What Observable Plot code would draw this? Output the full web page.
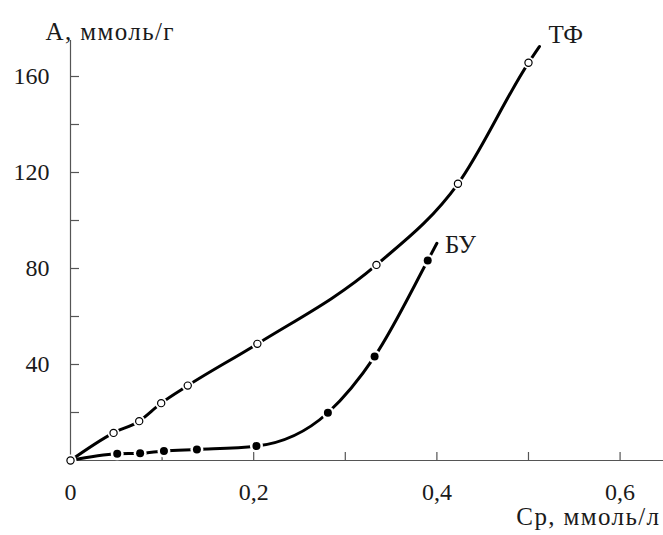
<!DOCTYPE html>
<html>
<head>
<meta charset="utf-8">
<script src="https://cdn.jsdelivr.net/npm/d3@7"></script>
<script src="https://cdn.jsdelivr.net/npm/@observablehq/plot@0.6"></script>
<style>
  html, body { margin: 0; padding: 0; background: #fff; }
</style>
</head>
<body>
<div id="chart"></div>
<script>
// ТФ series (open circles)
const tfX = [0, 0.047, 0.075, 0.099, 0.128, 0.204, 0.334, 0.423, 0.500];
const tfY = [0, 11.5, 16.4, 23.9, 31.2, 48.6, 81.5, 115.3, 165.7];
const tfEnd = {x: 0.512, y: 172.5};
// БУ series (filled circles)
const buX = [0, 0.051, 0.076, 0.102, 0.138, 0.203, 0.281, 0.332, 0.390];
const buY = [0, 2.8, 3.0, 4.0, 4.6, 6.0, 19.9, 43.3, 83.3];
const buEnd = {x: 0.400, y: 90.5};

const seriesNames = ["ТФ", "БУ"];
const xTicks = [0.1, 0.2, 0.3, 0.4, 0.5, 0.6];
const xLabels = [0, 0.2, 0.4, 0.6];
const yTicks = [20, 40, 60, 80, 100, 120, 140, 160];
const yLabels = [40, 80, 120, 160];
const yTitle = "А, ммоль/г";
const xTitle = "Ср, ммоль/л";

const tf = tfX.map((x, i) => ({x, y: tfY[i]}));
const bu = buX.map((x, i) => ({x, y: buY[i]}));
const tfLine = [...tf, tfEnd];
const buLine = [...bu, buEnd];
const buMarks = bu.filter(d => d.x > 0);

const font = "'Liberation Serif', 'Times New Roman', serif";
const fmt = d => String(d).replace(".", ",");

const chart = Plot.plot({
  width: 663,
  height: 535,
  marginLeft: 70,
  marginRight: 0,
  marginTop: 40,
  marginBottom: 75,
  style: {fontFamily: font, background: "#fff", overflow: "visible"},
  x: {domain: [0, 0.6474], axis: null},
  y: {domain: [0, 175], axis: null},
  marks: [
    Plot.ruleX([0], {stroke: "#555", strokeWidth: 1.2}),
    Plot.ruleY([0], {stroke: "#555", strokeWidth: 1.2}),
    Plot.axisX({ticks: xTicks, tickSize: -8, tickFormat: () => "", stroke: "#555", strokeWidth: 1.2, label: null}),
    Plot.axisY({ticks: yTicks, tickSize: -9, tickFormat: () => "", stroke: "#555", strokeWidth: 1.2, label: null}),
    Plot.axisX({ticks: xLabels, tickSize: 0, tickPadding: 22, tickFormat: fmt, fontSize: 24, fill: "#1a1a1a", label: null}),
    Plot.axisY({ticks: yLabels, tickSize: 0, tickPadding: 21, tickFormat: fmt, fontSize: 24, fill: "#1a1a1a", label: null}),
    Plot.line(tfLine, {x: "x", y: "y", curve: "monotone-x", stroke: "#000", strokeWidth: 3}),
    Plot.line(buLine, {x: "x", y: "y", curve: "monotone-x", stroke: "#000", strokeWidth: 3}),
    Plot.dot(tf, {x: "x", y: "y", r: 6, fill: "#fff", stroke: "none"}),
    Plot.dot(buMarks, {x: "x", y: "y", r: 6.5, fill: "#fff", stroke: "none"}),
    Plot.dot(buMarks, {x: "x", y: "y", r: 4, fill: "#000", stroke: "none"}),
    Plot.dot(tf, {x: "x", y: "y", r: 3.6, fill: "#fff", stroke: "#000", strokeWidth: 1.2}),
    Plot.text([tfEnd], {x: "x", y: "y", text: () => seriesNames[0], textAnchor: "start", lineAnchor: "middle", dx: 9, dy: -12, fontSize: 25, fill: "#1a1a1a"}),
    Plot.text([buEnd], {x: "x", y: "y", text: () => seriesNames[1], textAnchor: "start", lineAnchor: "middle", dx: 8, dy: 2, fontSize: 25, fill: "#1a1a1a"}),
    Plot.text([yTitle], {frameAnchor: "top-left", text: d => d, textAnchor: "start", lineAnchor: "bottom", dx: -25, dy: -1, fontSize: 25, fill: "#1a1a1a"}),
    Plot.text([xTitle], {frameAnchor: "bottom-right", text: d => d, textAnchor: "end", lineAnchor: "top", dx: -3, dy: 47, fontSize: 25, fill: "#1a1a1a"})
  ]
});
d3.select(chart).selectAll("text")
  .filter(function () { const t = this.textContent; return t === yTitle || t === xTitle; })
  .attr("letter-spacing", "1.4");
document.getElementById("chart").appendChild(chart);
</script>
</body>
</html>
